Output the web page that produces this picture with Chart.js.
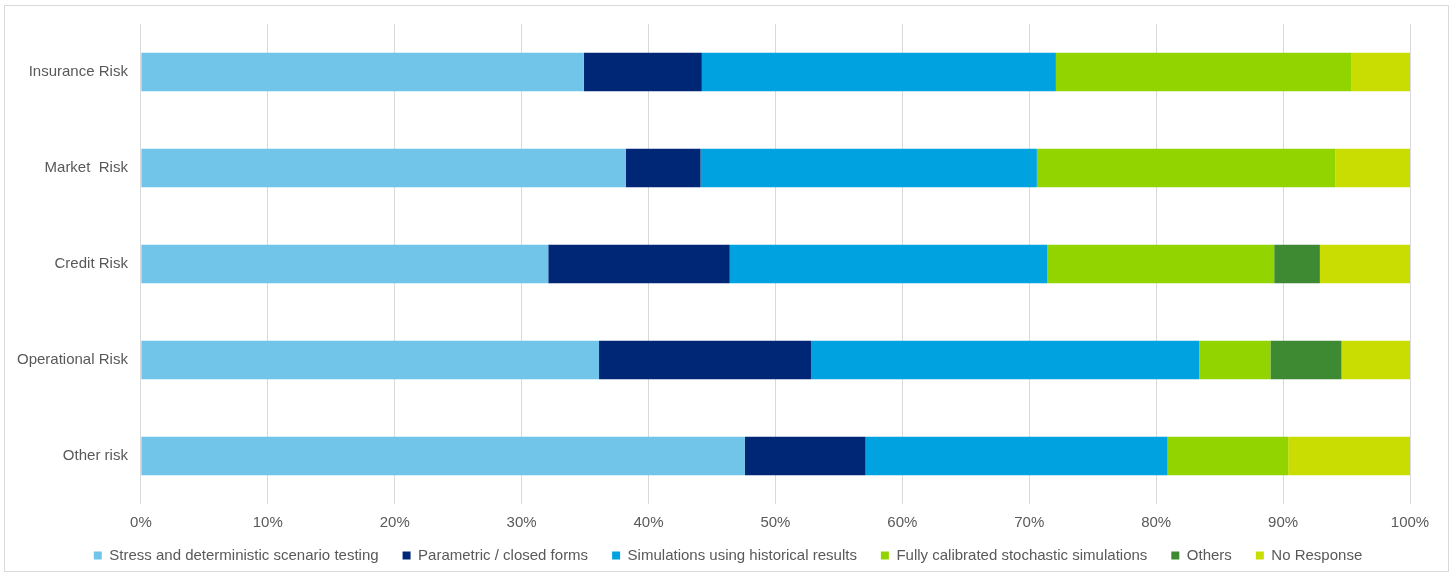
<!DOCTYPE html>
<html>
<head>
<meta charset="utf-8">
<script src="https://cdn.jsdelivr.net/npm/chart.js@4"></script>
<style>
  html, body { margin: 0; padding: 0; background: #fff; }
  #wrap { position: relative; width: 1453px; height: 573px; }
  #frame { position: absolute; left: 4px; top: 5px; width: 1445px; height: 567px; border: 1px solid #d9d9d9; box-sizing: border-box; pointer-events: none; }
</style>
</head>
<body>
<div id="wrap">
  <canvas id="riskChart" width="1453" height="573"></canvas>
  <div id="frame"></div>
</div>
<script>
const categories = ['Insurance Risk', 'Market  Risk', 'Credit Risk', 'Operational Risk', 'Other risk'];

const stressTesting = [34.9, 38.2, 32.1, 36.1, 47.6];
const parametric = [9.3, 5.9, 14.3, 16.7, 9.5];
const historicalSims = [27.9, 26.5, 25.0, 30.6, 23.8];
const stochasticSims = [23.3, 23.5, 17.9, 5.6, 9.5];
const others = [0, 0, 3.6, 5.6, 0];
const noResponse = [4.6, 5.9, 7.1, 5.4, 9.6];

const seriesNames = [
    'Stress and deterministic scenario testing',
    'Parametric / closed forms',
    'Simulations using historical results',
    'Fully calibrated stochastic simulations',
    'Others',
    'No Response'
];
const seriesColors = ['#71c5e8', '#002776', '#00a3e0', '#92d400', '#3d8a32', '#c9dd03'];
const seriesData = [stressTesting, parametric, historicalSims, stochasticSims, others, noResponse];

// let the legend take less room in the layout, then pull its top back up
// so the items sit closer to the axis labels; also centre it under the frame
const LEGEND_TRIM = 18;
const legendNudge = {
    id: 'legendNudge',
    beforeLayout(chart) {
        const lg = chart.legend;
        if (lg && !lg.nudged) {
            const fit = lg.fit;
            lg.fit = function () { fit.call(this); this.height -= LEGEND_TRIM; };
            lg.nudged = true;
        }
    },
    afterLayout(chart) {
        const lg = chart.legend;
        lg.top -= LEGEND_TRIM;
        lg.height += LEGEND_TRIM;
        lg.left += 21;
        lg.right += 21;
    }
};

const ctx = document.getElementById('riskChart').getContext('2d');

Chart.defaults.font.family = '"Liberation Sans", Arial, sans-serif';
Chart.defaults.font.size = 15;
Chart.defaults.color = '#595959';

const riskChart = new Chart(ctx, {
    type: 'bar',
    data: {
        labels: categories,
        datasets: seriesNames.map((name, i) => ({
            label: name,
            data: seriesData[i],
            backgroundColor: seriesColors[i],
            borderWidth: 0,
            categoryPercentage: 1,
            barPercentage: 0.4
        }))
    },
    options: {
        indexAxis: 'y',
        responsive: false,
        animation: false,
        layout: {
            padding: { left: 4, right: 43, top: 24, bottom: 0 }
        },
        scales: {
            x: {
                stacked: true,
                min: 0,
                max: 100,
                ticks: {
                    stepSize: 10,
                    padding: 10,
                    callback: v => v + '%'
                },
                grid: {
                    color: '#d9d9d9',
                    lineWidth: 1,
                    drawTicks: false,
                    tickLength: 0
                },
                border: { display: false }
            },
            y: {
                stacked: true,
                ticks: { padding: 13 },
                grid: { display: false, drawTicks: false, tickLength: 0 },
                border: { display: false }
            }
        },
        plugins: {
            legend: {
                position: 'bottom',
                labels: {
                    boxWidth: 8,
                    boxHeight: 8,
                    padding: 24
                }
            },
            tooltip: { enabled: false }
        }
    },
    plugins: [legendNudge]
});
</script>
</body>
</html>
